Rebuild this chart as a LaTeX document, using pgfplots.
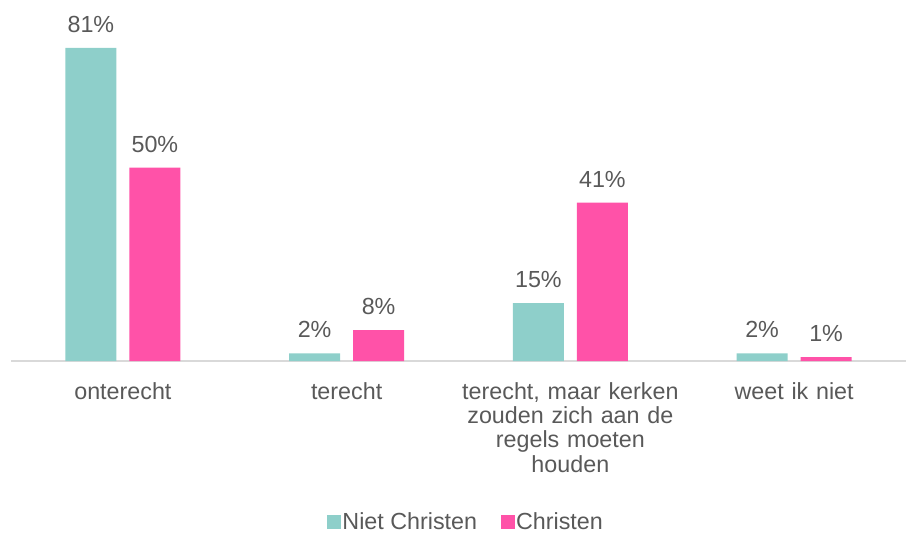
\documentclass[border=0pt]{standalone}
\usepackage{pgfplots}
\pgfplotsset{compat=1.18}
\usepackage{fontspec}
\setmainfont{Liberation Sans}
\definecolor{teal1}{HTML}{8ECFCA}
\definecolor{pink1}{HTML}{FF52A8}
\definecolor{txt}{HTML}{595959}
\definecolor{axl}{HTML}{D9D9D9}
\begin{document}
\begin{tikzpicture}
\useasboundingbox (-10pt,-172pt) rectangle (896pt,361pt);
\begin{axis}[
  at={(1pt,0pt)}, anchor=south west,
  scale only axis, width=895pt, height=361pt,
  xmin=-0.5, xmax=3.5, ymin=0, ymax=93.4,
  axis x line*=bottom, axis y line=none,
  x axis line style={axl, line width=1.5pt, -},
  ybar=13pt, bar width=51pt,
  xtick={0,1,2,3}, major tick length=0pt,
  xticklabels={onterecht, terecht, {terecht, maar kerken\\zouden zich aan de\\regels moeten\\houden}, weet ik niet},
  xticklabel style={align=center, text width=224pt, font=\fontsize{23.3}{24.4}\selectfont, text=txt, inner sep=0pt, yshift=-21pt},
  ytick=\empty,
  /pgf/number format/assume math mode=true,
  nodes near coords={\pgfmathprintnumber{\pgfplotspointmeta}\%},
  every node near coord/.append style={font=\fontsize{23.3}{24}\selectfont, text=txt, inner sep=0pt, anchor=south, yshift=15pt},
  legend style={draw=none, at={(0.508,-0.446)}, anchor=center, legend columns=2, font=\fontsize{23.3}{24}\selectfont, text=txt, /tikz/every even column/.append style={column sep=22pt}, nodes={inner sep=1.5pt}},
  legend image code/.code={\fill[#1,draw=none] (0pt,-7pt) rectangle (14pt,7pt);},
  clip=false,
]
\addplot[fill=teal1, draw=none] coordinates {(0,81) (1,2) (2,15) (3,2)};
\addplot[fill=pink1, draw=none] coordinates {(0,50) (1,8) (2,41) (3,1)};
\legend{Niet Christen, Christen}
\end{axis}
\end{tikzpicture}
\end{document}
